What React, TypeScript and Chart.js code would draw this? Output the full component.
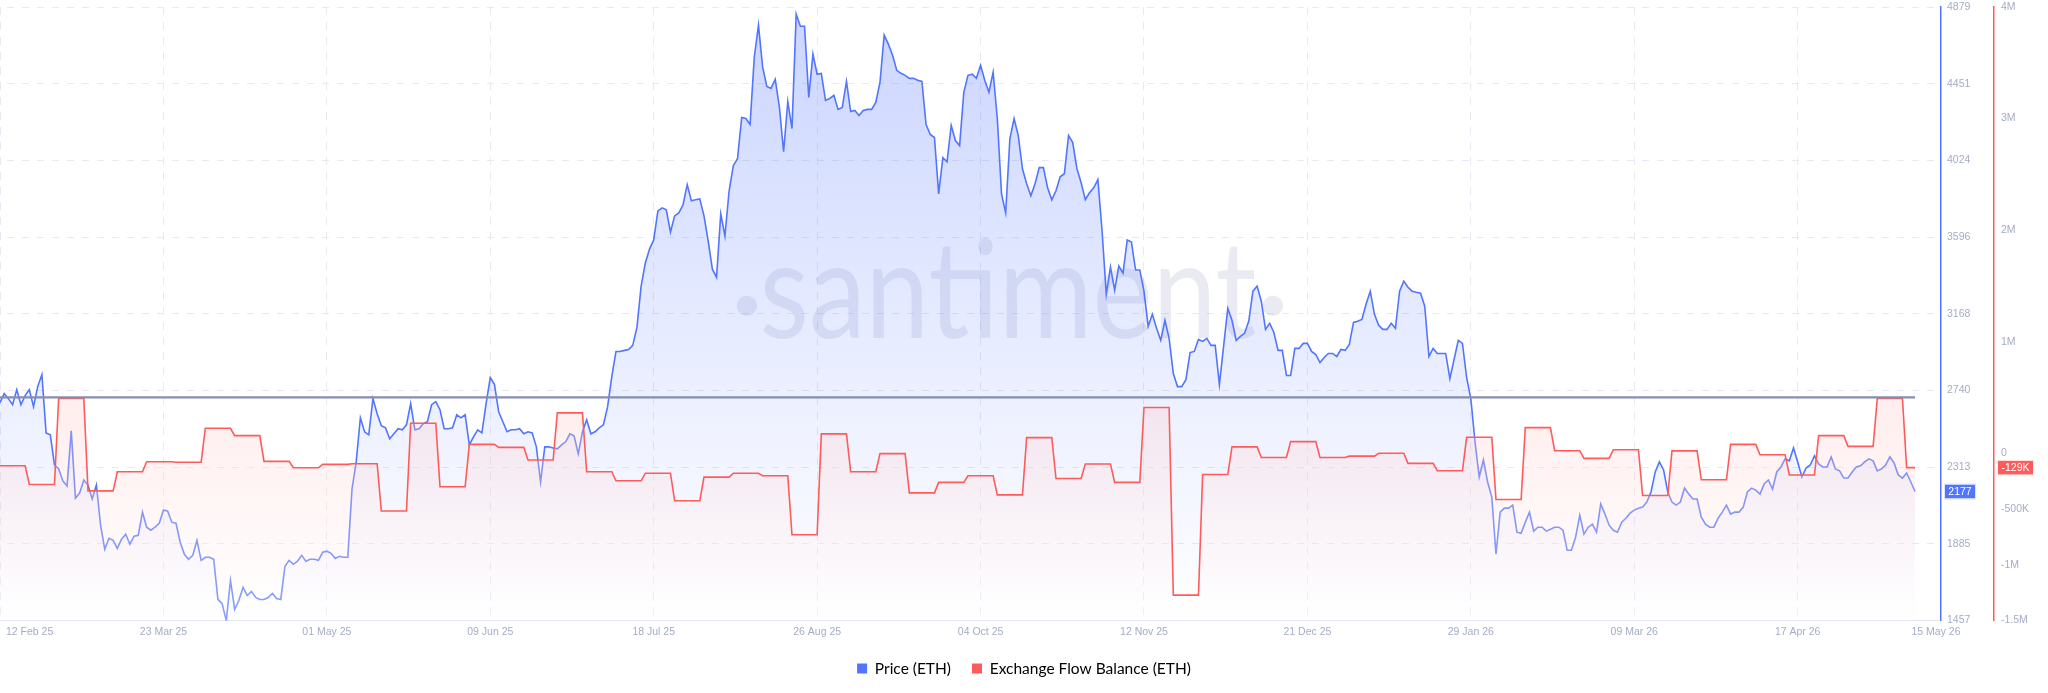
import React, { useEffect, useRef } from "react";
import { Chart, registerables } from "chart.js";

Chart.register(...registerables);

// Daily ETH price, 12 Feb 25 → 15 May 26
const priceValues: number[] = [
  2672,2723,2695,2661,2745,2661,2712,2745,2650,2762,2829,2504,2493,2325,2303,2236,2208,2516,2140,2168,
  2241,2213,2135,2213,1989,1855,1916,1905,1860,1911,1939,1883,1928,1933,2062,1978,1961,1978,2000,2073,
  2068,2006,2000,1894,1827,1799,1821,1905,1793,1810,1810,1799,1575,1552,1457,1681,1519,1569,1642,1597,
  1620,1586,1575,1575,1586,1608,1580,1575,1760,1793,1771,1788,1821,1788,1799,1799,1793,1838,1844,1832,
  1804,1816,1810,1810,2190,2342,2588,2510,2493,2695,2611,2544,2532,2471,2499,2527,2521,2549,2667,2521,
  2527,2555,2566,2661,2678,2633,2527,2527,2532,2605,2588,2605,2437,2482,2521,2504,2667,2812,2773,2622,
  2566,2510,2521,2521,2527,2499,2510,2504,2426,2230,2426,2426,2420,2415,2437,2454,2499,2488,2387,2510,
  2577,2499,2510,2532,2549,2650,2818,2958,2958,2964,2969,2992,3092,3322,3451,3529,3580,3742,3759,3748,
  3624,3714,3731,3776,3888,3798,3804,3809,3714,3574,3417,3372,3725,3602,3854,3994,4033,4263,4257,4224,
  4599,4778,4543,4436,4425,4476,4319,4072,4352,4201,4840,4772,4772,4375,4616,4504,4509,4358,4369,4386,
  4308,4319,4464,4296,4302,4274,4302,4308,4308,4347,4459,4722,4672,4610,4526,4509,4498,4481,4481,4470,
  4464,4224,4168,4151,3837,4039,4016,4218,4134,4106,4403,4498,4504,4481,4554,4470,4403,4515,4257,3837,
  3731,4145,4257,4162,3977,3893,3826,3893,3983,3983,3871,3804,3854,3932,3949,4162,4123,3977,3899,3804,
  3843,3871,3916,3630,3277,3428,3300,3434,3395,3580,3568,3412,3412,3294,3098,3165,3087,3020,3132,3031,
  2835,2762,2762,2801,2952,2958,3025,3014,3031,2992,2992,2773,2986,3199,3132,3020,3042,3059,3126,3294,
  3322,3238,3081,3115,3064,2964,2964,2824,2824,2975,2975,3003,3003,2958,2941,2896,2924,2947,2947,2930,
  2969,2964,2997,3120,3126,3137,3221,3294,3165,3104,3081,3081,3115,3087,3294,3350,3316,3294,3288,3283,
  3210,2930,2975,2947,2947,2947,2807,2913,3020,3003,2812,2695,2453,2258,2353,2230,2146,1827,2062,2084,
  2084,2101,1950,1944,2006,2062,1956,1978,1978,1956,1967,1978,1978,1961,1849,1849,1922,2045,1939,1978,
  1995,1950,2107,2051,1989,1961,1950,2006,2028,2056,2073,2084,2090,2118,2174,2286,2342,2297,2174,2118,
  2101,2118,2196,2163,2135,2135,2034,1995,1978,1978,2028,2062,2101,2051,2062,2062,2090,2174,2196,2185,
  2163,2219,2241,2191,2286,2314,2359,2348,2420,2342,2258,2308,2325,2376,2331,2314,2314,2370,2303,2292,
  2252,2252,2286,2314,2320,2342,2359,2348,2292,2303,2325,2370,2336,2269,2252,2280,2230,2177,
];

// Weekly exchange flow balance (ETH), one value per 7 days
const flowWeekly: number[] = [
  -112000,-280000,491000,-337000,-166000,-76000,-80000,224000,158000,-73000,-130000,-100000,-94000,-517000,
  269000,-300000,80000,53000,-61000,362000,-166000,-247000,-179000,-426000,-214000,-179000,-202000,-731000,
  174000,-166000,-3000,-355000,-261000,-202000,-373000,140000,-226000,-96000,-261000,410000,-1272000,-191000,
  57000,-38000,104000,-38000,-26000,0,-91000,-157000,143000,-415000,230000,23000,-46000,32000,-379000,21000,
  -238000,80000,-13000,-195000,158000,62000,491000,-129000,
];

const referenceLevel = 500000;

const xTickDays: number[] = [0,39,78,117,156,195,234,273,312,351,390,429,457];
const xTickLabels: string[] = [
  "12 Feb 25","23 Mar 25","01 May 25","09 Jun 25","18 Jul 25","26 Aug 25","04 Oct 25",
  "12 Nov 25","21 Dec 25","29 Jan 26","09 Mar 26","17 Apr 26","15 May 26",
];
const priceTicks: number[] = [4879,4451,4024,3596,3168,2740,2313,1885,1457];
const flowTicks: number[] = [4000000,3000000,2000000,1000000,0,-500000,-1000000,-1500000];
const flowTickLabels: string[] = ["4M","3M","2M","1M","0","-500K","-1M","-1.5M"];

const BLUE = "#5275ff";
const RED = "#ff5b5b";
const TICK = "#a4acc6";
const GRID = "#e8e9f4";
const TICK_FONT = { family: "'Liberation Sans', Arial, sans-serif", size: 10.5 };

const pricePoints = priceValues.map((y, i) => ({ x: i, y }));
const flowPoints = flowWeekly.flatMap((y, w) => {
  const start = w * 7;
  const end = Math.min(start + 6, priceValues.length - 1);
  return [{ x: start, y }, { x: end, y }];
});
const lastDay = priceValues.length - 1;

const watermarkPlugin = {
  id: "watermark",
  beforeDatasetsDraw(chart: any) {
    const { ctx } = chart;
    ctx.save();
    ctx.font = "400 136px Lato, sans-serif";
    ctx.fillStyle = "rgba(60,75,140,0.11)";
    ctx.textAlign = "center";
    ctx.textBaseline = "alphabetic";
    ctx.fillText("santiment", 1008, 338, 497);
    ctx.fillText("·", 747, 346);
    ctx.fillText("·", 1273, 346);
    ctx.restore();
  },
};

const edgeLabelPlugin = {
  id: "edgeLabels",
  beforeDraw(chart: any) {
    const items = chart.scales.x.getLabelItems();
    if (!items.length) return;
    items[0].options.textAlign = "left";
    items[0].options.translation[0] = 6;
    items[items.length - 1].options.translation[0] = 1936;
  },
};

const tagPlugin = {
  id: "tags",
  afterDraw(chart: any) {
    const { ctx, scales } = chart;
    const draw = (text: string, y: number, x: number, w: number, color: string, border: string) => {
      const h = 14;
      ctx.save();
      ctx.fillStyle = color;
      ctx.fillRect(x, y - h / 2, w, h);
      ctx.strokeStyle = border;
      ctx.lineWidth = 1;
      ctx.strokeRect(x - 0.5, y - h / 2 - 0.5, w + 1, h + 1);
      ctx.fillStyle = "#ffffff";
      ctx.font = "10.5px 'Liberation Sans', Arial, sans-serif";
      ctx.textAlign = "center";
      ctx.textBaseline = "middle";
      ctx.fillText(text, x + w / 2, y + 0.5);
      ctx.restore();
    };
    draw(String(priceValues[lastDay]), scales.price.getPixelForValue(priceValues[lastDay]), 1945, 30, BLUE, "#dfe5ff");
    const lastFlow = flowWeekly[flowWeekly.length - 1];
    draw(`${Math.round(lastFlow / 1000)}K`, scales.flow.getPixelForValue(lastFlow), 1998, 35, RED, "#ffecec");
  },
};

export default function App() {
  const ref = useRef<HTMLCanvasElement | null>(null);
  useEffect(() => {
    if (!ref.current) return;
    const priceFill = (c: any) => {
      const a = c.chart.chartArea;
      if (!a) return "transparent";
      const g = c.chart.ctx.createLinearGradient(0, a.top, 0, a.bottom);
      g.addColorStop(0, "rgba(82,117,255,0.30)");
      g.addColorStop(1, "rgba(82,117,255,0)");
      return g;
    };
    const flowFill = (c: any) => {
      const a = c.chart.chartArea;
      if (!a) return "transparent";
      const top = c.chart.scales.flow.getPixelForValue(491000);
      const g = c.chart.ctx.createLinearGradient(0, top, 0, a.bottom);
      g.addColorStop(0, "rgba(255,198,198,0.30)");
      g.addColorStop(1, "rgba(255,255,255,0.30)");
      return g;
    };
    const chart = new Chart(ref.current, {
      type: "line",
      data: {
        datasets: [
          {
            label: "Price (ETH)",
            data: pricePoints,
            yAxisID: "price",
            borderColor: BLUE,
            borderWidth: 1.6,
            backgroundColor: priceFill,
            fill: "start",
            pointRadius: 0,
            tension: 0,
            order: 3,
          },
          {
            label: "Exchange Flow Balance (ETH)",
            data: flowPoints,
            yAxisID: "flow",
            borderColor: RED,
            borderWidth: 1.6,
            backgroundColor: flowFill,
            fill: "start",
            pointRadius: 0,
            tension: 0,
            order: 2,
          },
          {
            label: "level",
            data: [{ x: 0, y: referenceLevel }, { x: lastDay, y: referenceLevel }],
            yAxisID: "flow",
            borderColor: "#868eb0",
            borderWidth: 2.2,
            fill: false,
            pointRadius: 0,
            order: 1,
          },
        ],
      } as any,
      options: {
        responsive: false,
        animation: false,
        devicePixelRatio: 1,
        layout: { padding: { top: 7, left: 0, right: 0, bottom: 6.7 } },
        plugins: {
          tooltip: { enabled: false },
          legend: {
            position: "bottom",
            labels: {
              boxWidth: 10,
              boxHeight: 10,
              padding: 21,
              color: "#2a2e42",
              font: { family: "Lato, sans-serif", size: 15.5 },
              generateLabels: () => [
                { text: "Price (ETH)", fillStyle: BLUE, strokeStyle: BLUE, lineWidth: 0, datasetIndex: 0 },
                { text: "Exchange Flow Balance (ETH)", fillStyle: RED, strokeStyle: RED, lineWidth: 0, datasetIndex: 1 },
              ],
            },
          },
        },
        scales: {
          x: {
            type: "linear",
            min: 0,
            max: 463.2,
            afterBuildTicks: (s: any) => { s.ticks = xTickDays.map((value) => ({ value })); },
            afterFit: (s: any) => { s.height = 19.2; s.paddingLeft = 0; s.paddingRight = 0; },
            ticks: {
              autoSkip: false,
              maxRotation: 0,
              color: TICK,
              font: TICK_FONT,
              padding: 5,
              callback: (_v: any, i: number) => xTickLabels[i],
            },
            grid: {
              color: (c: any) => (c.index === xTickDays.length - 1 ? "transparent" : GRID),
              drawTicks: false,
              lineWidth: 1,
            },
            border: { color: "#e3e5f0", dash: [8, 7] },
          },
          price: {
            type: "linear",
            position: "right",
            weight: 0,
            min: 1457,
            max: 4879,
            afterBuildTicks: (s: any) => { s.ticks = priceTicks.map((value) => ({ value })); },
            afterFit: (s: any) => { s.width = 53; s.paddingTop = 0; s.paddingBottom = 0; },
            ticks: { color: TICK, font: TICK_FONT, padding: 6, autoSkip: false, callback: (v: any) => String(v) },
            grid: {
              color: (c: any) => (c.tick && c.tick.value === 1457 ? "transparent" : GRID),
              drawTicks: false,
              lineWidth: 1,
            },
            border: { color: BLUE, width: 1.5, dash: [7, 8], dashOffset: 8 },
          },
          flow: {
            type: "linear",
            position: "right",
            weight: 1,
            min: -1500000,
            max: 4000000,
            afterBuildTicks: (s: any) => { s.ticks = flowTicks.map((value) => ({ value })); },
            afterFit: (s: any) => { s.width = 54; s.paddingTop = 0; s.paddingBottom = 0; },
            ticks: {
              color: TICK,
              font: TICK_FONT,
              padding: 7,
              autoSkip: false,
              callback: (_v: any, i: number) => flowTickLabels[i],
            },
            grid: { display: false, drawTicks: false },
            border: { color: RED, width: 1.5 },
          },
        },
      } as any,
      plugins: [watermarkPlugin, edgeLabelPlugin, tagPlugin],
    } as any);
    return () => chart.destroy();
  }, []);
  return (
    <div style={{ position: "absolute", left: 0, top: 0, width: 2048, height: 693, background: "#fff" }}>
      <canvas ref={ref} width={2048} height={693} style={{ display: "block" }} />
    </div>
  );
}
